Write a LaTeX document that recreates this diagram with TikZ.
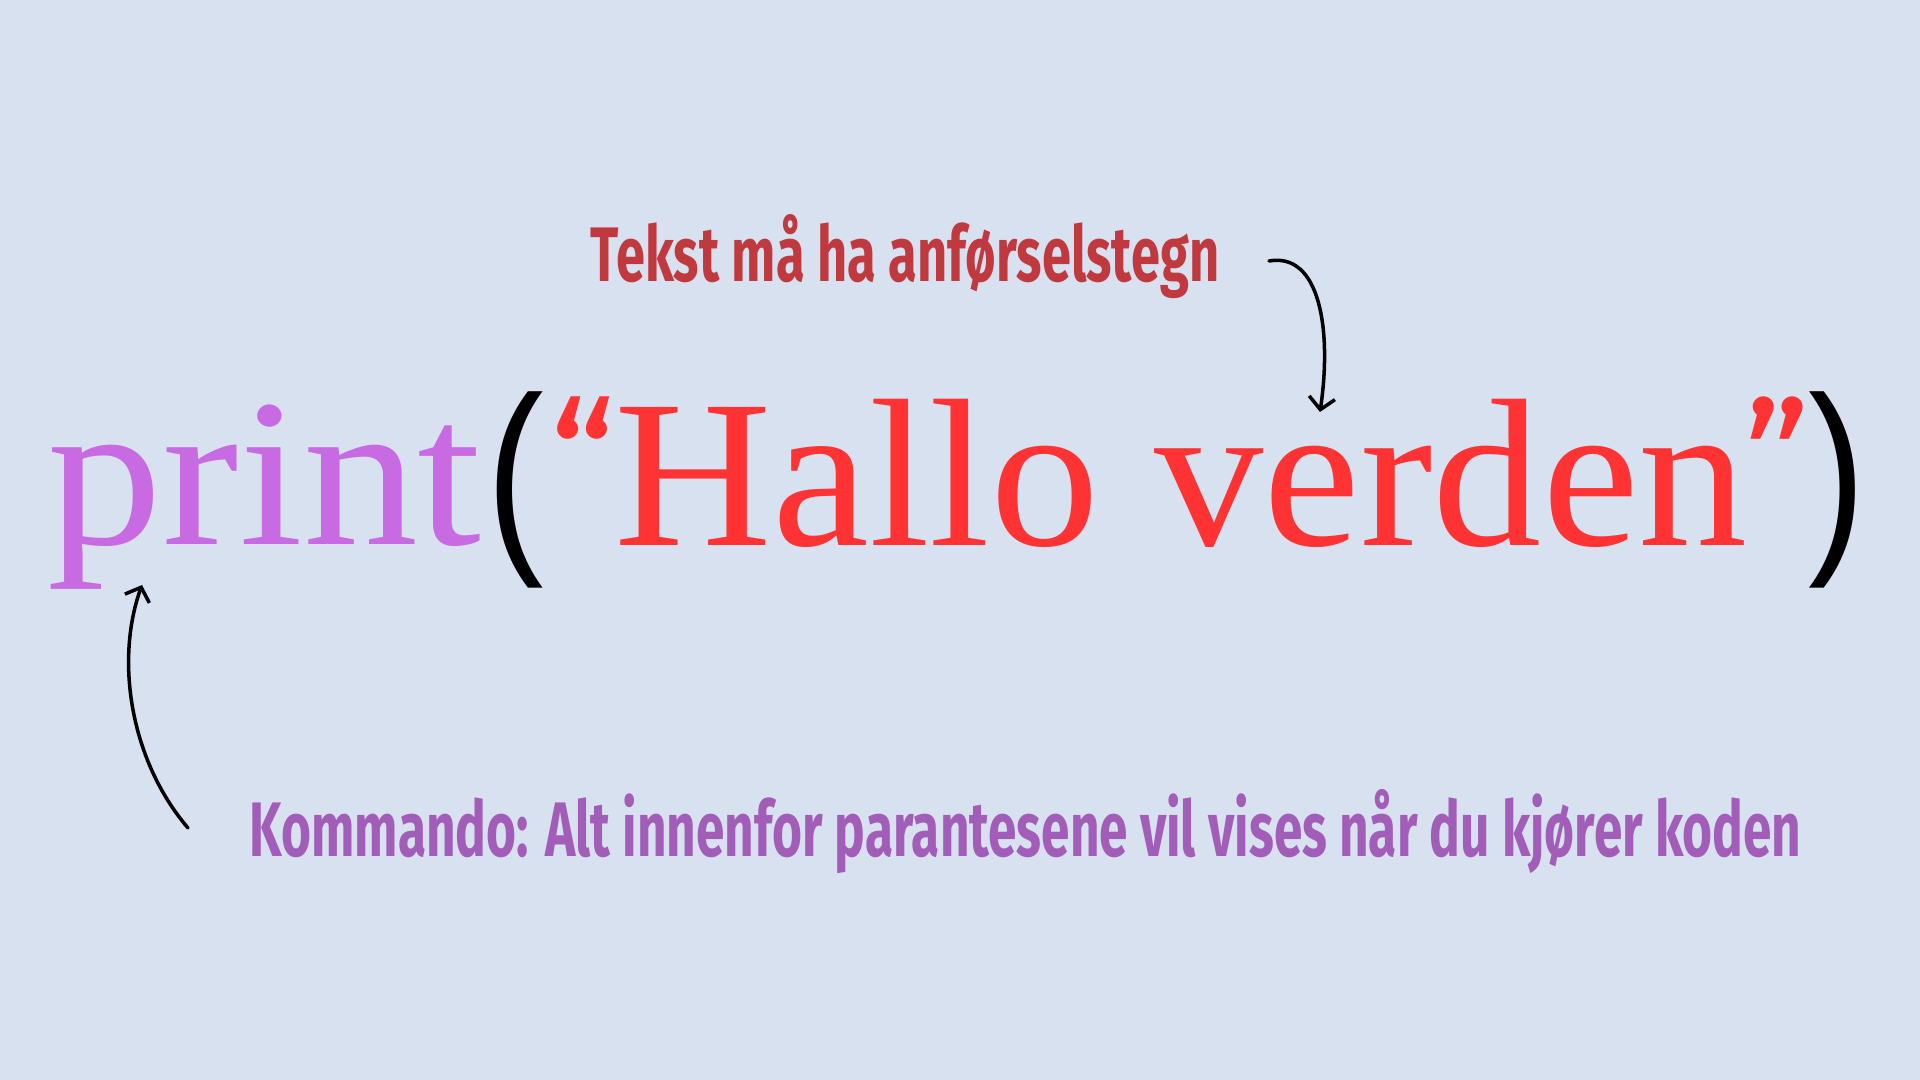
\documentclass[tikz,border=0pt]{standalone}
\usepackage{fontspec}
\setmainfont{Liberation Serif}
\newfontfamily\labelfont{Fira Sans}
\newfontfamily\parenfont{Liberation Sans}
\newfontfamily\quotefont{Fira Sans}
\usepackage{xcolor}
\usepackage{tikz}
\usetikzlibrary{arrows.meta,positioning,calc}

\definecolor{bgblue}{RGB}{216,225,239}
\definecolor{printpurple}{RGB}{200,107,226}
\definecolor{hallored}{RGB}{255,51,51}
\definecolor{notered}{RGB}{192,57,63}
\definecolor{notepurple}{RGB}{162,93,184}

\begin{document}
\begin{tikzpicture}[
    code/.style={anchor=base west, inner sep=0pt, font=\fontsize{60}{72}\selectfont},
    paren/.style={code, text=black, font=\parenfont\fontsize{60}{72}\selectfont},
    quote/.style={code, text=hallored, font=\quotefont\fontsize{46}{55}\selectfont},
    note/.style={anchor=base west, inner sep=0pt, font=\labelfont\bfseries\fontsize{22}{26}\selectfont},
    pointer/.style={draw=black, line width=1pt, line cap=round, -{Straight Barb[length=1.2mm, width=2.6mm]}}
]
% Background
\fill[bgblue] (0,0) rectangle (19.2,10.8);
\useasboundingbox (0,0) rectangle (19.2,10.8);

% Code line
\node[code, text=printpurple] (print) at (0.47, 5.35) {\scalebox{1.09}[1]{print}};
\node[paren] (lparen) at (4.86, 5.35) {\scalebox{0.82}[1]{(}};
\node[quote] (lquote) at (5.50, 5.61) {“};
\node[code, text=hallored] (hallo) at (6.14, 5.34) {\scalebox{1.035}[1]{Hallo verden}};
\node[quote] (rquote) at ($(hallo.base east)+(-0.05,0.27)$) {”};
\node[paren] (rparen) at (18.08, 5.35) {\scalebox{0.82}[1]{)}};

% Notes
\node[note, text=notered] (tekst) at (5.90, 7.98) {\scalebox{0.678}[1]{Tekst må ha anførselstegn}};
\node[note, text=notepurple] (kommando) at (2.49, 2.23) {\scalebox{0.664}[1]{Kommando: Alt innenfor parantesene vil vises når du kjører koden}};

% Pointers
\coordinate (tekst-tail) at (12.69, 8.19);
\coordinate (hallo-tip) at (13.20, 6.68);
\coordinate (kommando-tail) at (1.88, 2.52);
\coordinate (print-tip) at (1.42, 4.95);
\draw[pointer] (tekst-tail) .. controls (13.20, 8.28) and (13.32, 7.5) .. (hallo-tip);
\draw[pointer] (kommando-tail) .. controls (1.30, 3.2) and (1.15, 4.2) .. (print-tip);
\end{tikzpicture}
\end{document}
